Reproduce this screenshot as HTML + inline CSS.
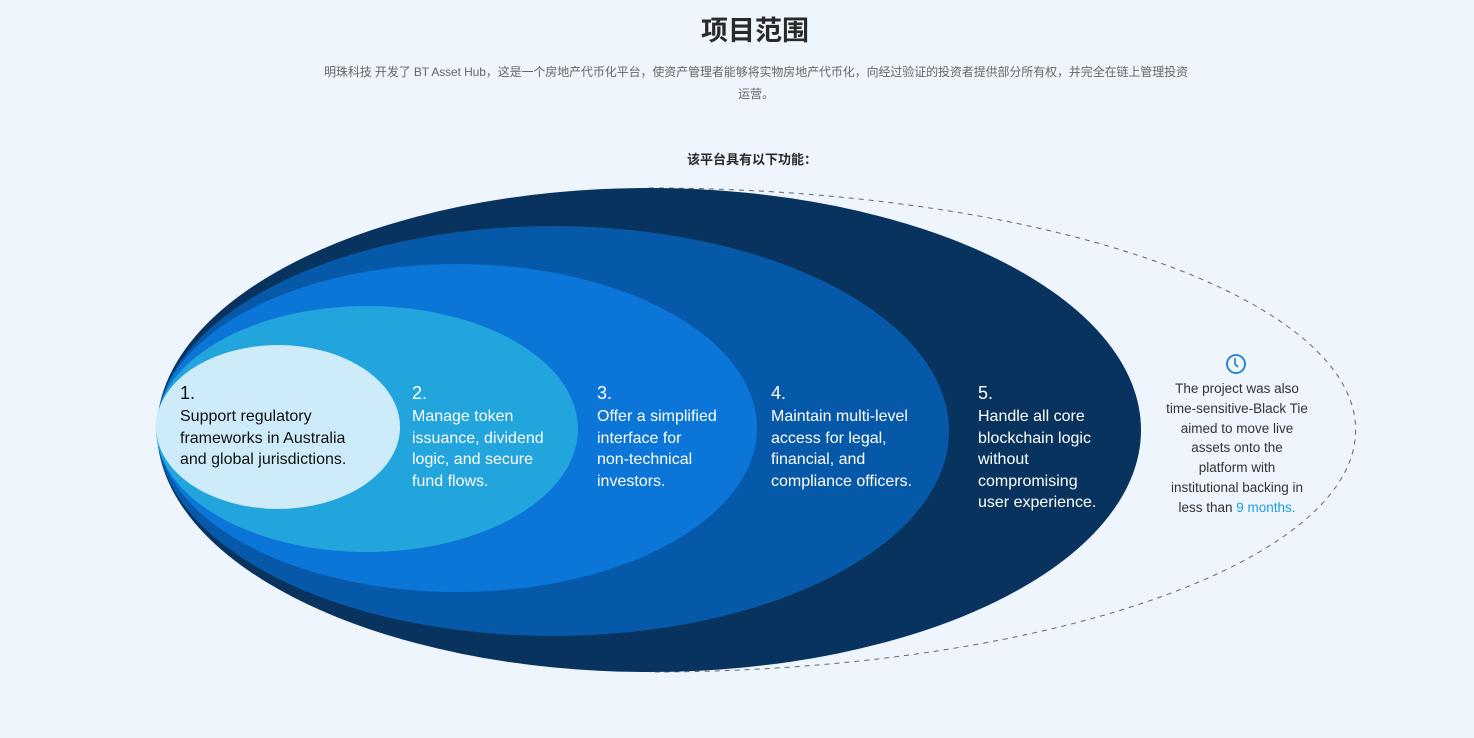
<!DOCTYPE html>
<html><head><meta charset="utf-8"><style>
*{margin:0;padding:0}
body{width:1474px;height:738px;background:#eef5fc;position:relative;overflow:hidden;font-family:"Liberation Sans","Noto Sans CJK SC",sans-serif}
.a{position:absolute}
.t{font-size:16px;line-height:21.5px;color:#fff}
.t b{display:block;font-weight:normal;font-size:18px;line-height:26px}
</style></head><body>
<div class="a" style="left:0;width:1510px;top:12px;text-align:center;font-size:27px;font-weight:bold;color:#2a2a2a;line-height:38px">项目范围</div>
<div class="a" style="left:306px;width:900px;top:61px;text-align:center;font-size:12px;color:#666;line-height:22px;letter-spacing:-0.1px">明珠科技 开发了 BT Asset Hub，这是一个房地产代币化平台，使资产管理者能够将实物房地产代币化，向经过验证的投资者提供部分所有权，并完全在链上管理投资<br>运营。</div>
<div class="a" style="left:0;width:1504px;top:149px;text-align:center;font-size:13px;font-weight:bold;color:#2a2a2a">该平台具有以下功能：</div>
<svg class="a" style="left:0;top:0" width="1474" height="738">
<path d="M649 188 A707 242 0 0 1 649 672" fill="none" stroke="#666" stroke-dasharray="5,5" stroke-width="1"/>
<ellipse cx="649" cy="430" rx="492" ry="242" fill="#07335e"/>
<ellipse cx="553" cy="431" rx="396" ry="205" fill="#0659a9"/>
<ellipse cx="457" cy="428" rx="300" ry="164" fill="#0b76d8"/>
<ellipse cx="367" cy="429" rx="211" ry="123" fill="#22a4dd"/>
<ellipse cx="278" cy="427" rx="122" ry="82" fill="#cdebf8"/>
<circle cx="1236" cy="364" r="9" fill="none" stroke="#1a7fd6" stroke-width="1.8"/>
<path d="M1235 358v6l3 3" fill="none" stroke="#1a7fd6" stroke-width="1.6"/>
</svg>
<div class="a t" style="left:180px;top:380px;color:#111"><b>1.</b>Support regulatory<br>frameworks in Australia<br>and global jurisdictions.</div>
<div class="a t" style="left:412px;top:380px"><b>2.</b>Manage token<br>issuance, dividend<br>logic, and secure<br>fund flows.</div>
<div class="a t" style="left:597px;top:380px"><b>3.</b>Offer a simplified<br>interface for<br>non-technical<br>investors.</div>
<div class="a t" style="left:771px;top:380px"><b>4.</b>Maintain multi-level<br>access for legal,<br>financial, and<br>compliance officers.</div>
<div class="a t" style="left:978px;top:380px"><b>5.</b>Handle all core<br>blockchain logic<br>without<br>compromising<br>user experience.</div>
<div class="a" style="left:1146px;width:182px;top:379px;text-align:center;font-size:13.5px;line-height:19.8px;color:#333">The project was also<br>time-sensitive-Black Tie<br>aimed to move live<br>assets onto the<br>platform with<br>institutional backing in<br>less than <span style="color:#1a9ee0">9 months.</span></div>
</body></html>
